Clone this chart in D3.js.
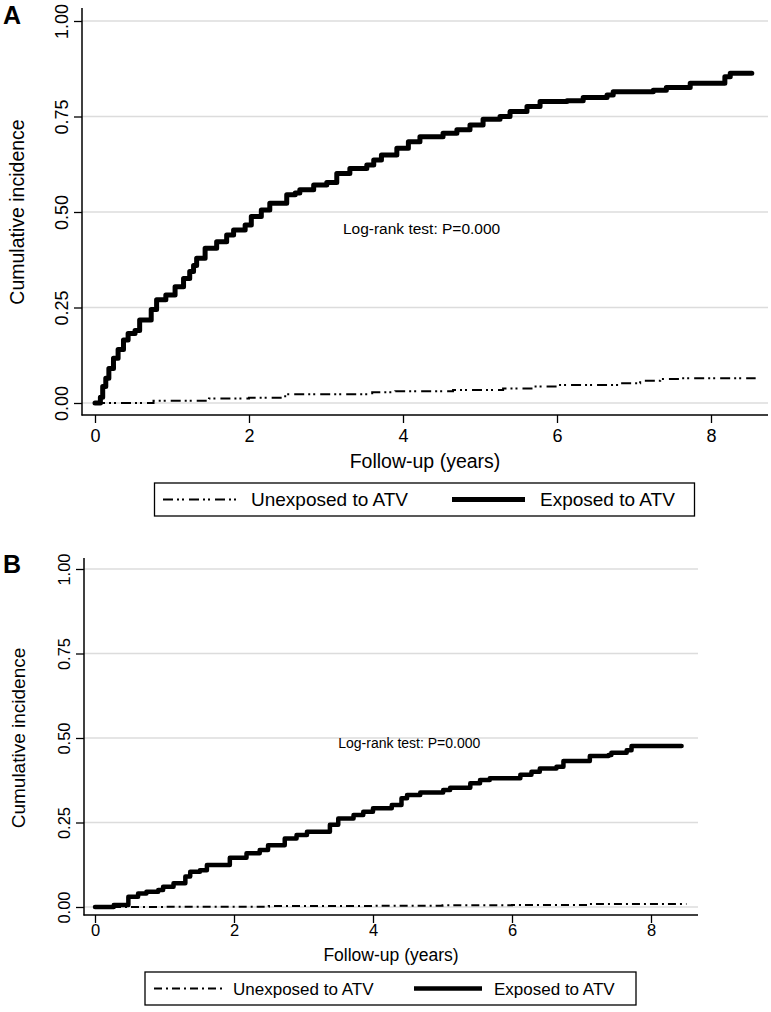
<!DOCTYPE html>
<html><head><meta charset="utf-8">
<script src="https://cdn.jsdelivr.net/npm/d3@7"></script>
<style>
html,body{margin:0;padding:0;background:#fff;}
svg{display:block;font-family:"Liberation Sans",Arial,Helvetica,sans-serif;}
</style></head>
<body>
<svg id="chart" width="771" height="1012"></svg>
<script>
// ---------- DATA ----------
const yTicks = [0, 0.25, 0.5, 0.75, 1.0];
const yTickLabels = ["0.00", "0.25", "0.50", "0.75", "1.00"];
const xTicks = [0, 2, 4, 6, 8];
const seriesNames = ["Unexposed to ATV", "Exposed to ATV"];
const xTitle = "Follow-up (years)";
const yTitle = "Cumulative incidence";
const pText = "Log-rank test: P=0.000";

// Panel A
const expA_t = [0,0.07,0.10,0.14,0.18,0.24,0.30,0.37,0.43,0.52,0.58,0.73,0.80,0.92,1.04,1.15,1.23,1.28,1.32,1.43,1.58,1.71,1.80,1.95,2.03,2.16,2.27,2.49,2.60,2.66,2.84,3.01,3.14,3.31,3.53,3.62,3.72,3.92,4.07,4.22,4.52,4.70,4.87,5.04,5.26,5.39,5.61,5.78,6.13,6.34,6.65,6.73,7.25,7.42,7.73,8.18,8.25,8.53];
const expA_v = [0,0.015,0.043,0.065,0.09,0.117,0.14,0.165,0.182,0.19,0.217,0.245,0.27,0.283,0.304,0.326,0.344,0.36,0.379,0.405,0.422,0.44,0.453,0.466,0.488,0.505,0.523,0.545,0.55,0.558,0.571,0.577,0.601,0.614,0.623,0.636,0.649,0.667,0.684,0.697,0.706,0.715,0.728,0.743,0.75,0.763,0.776,0.789,0.791,0.80,0.806,0.815,0.819,0.826,0.837,0.854,0.863,0.863];
const unA_t = [0,0.76,1.48,2.0,2.47,3.6,3.9,4.65,5.3,5.7,6.0,6.78,7.08,7.34,7.6,8.58];
const unA_v = [0,0.006,0.012,0.014,0.023,0.028,0.031,0.034,0.038,0.043,0.047,0.052,0.058,0.063,0.065,0.065];

// Panel B
const expB_t = [0,0.27,0.48,0.62,0.74,0.91,0.98,1.13,1.30,1.37,1.51,1.61,1.94,2.18,2.37,2.49,2.73,2.90,3.05,3.38,3.50,3.72,3.86,4.0,4.27,4.41,4.49,4.68,5.01,5.11,5.40,5.54,5.68,6.12,6.28,6.40,6.64,6.74,7.12,7.39,7.43,7.65,7.72,8.44];
const expB_v = [0,0.006,0.03,0.04,0.045,0.05,0.06,0.07,0.09,0.104,0.109,0.124,0.146,0.159,0.169,0.183,0.203,0.213,0.223,0.243,0.262,0.272,0.282,0.292,0.302,0.322,0.331,0.339,0.346,0.353,0.366,0.376,0.381,0.391,0.40,0.41,0.415,0.432,0.447,0.45,0.456,0.464,0.476,0.476];
const unB_t = [0,1.0,2.5,4.0,5.0,6.0,7.12,8.51];
const unB_v = [0,0.001,0.003,0.004,0.005,0.006,0.009,0.009];

// ---------- DRAW ----------
const svg = d3.select("#chart");
const zip = (t, v) => t.map((d, i) => ({t: d, v: v[i]}));

function panel(cfg) {
  const g = svg.append("g");
  const x = d3.scaleLinear().domain([0, 8]).range([cfg.x0, cfg.x8]);
  const y = d3.scaleLinear().domain([0, 1]).range([cfg.y0, cfg.y1]);

  // panel letter
  g.append("text").attr("x", 3).attr("y", cfg.letterY).attr("font-size", 25)
    .attr("font-weight", "bold").text(cfg.letter);

  // gridlines
  g.append("g").selectAll("line").data(yTicks).join("line")
    .attr("x1", cfg.left).attr("x2", cfg.right)
    .attr("y1", d => y(d)).attr("y2", d => y(d))
    .attr("stroke", "#dcdcdc").attr("stroke-width", 1.5);

  // y axis
  const yAx = g.append("g").attr("transform", `translate(${cfg.left},0)`)
    .call(d3.axisLeft(y).tickValues(yTicks).tickFormat((d, i) => yTickLabels[i]).tickSize(8).tickSizeOuter(0));
  yAx.select(".domain").remove();
  yAx.selectAll(".tick line").attr("stroke", "#000").attr("stroke-width", 1.3);
  yAx.selectAll(".tick text")
    .attr("transform", "rotate(-90)")
    .attr("x", 0).attr("y", -14).attr("dy", 0)
    .attr("text-anchor", "middle")
    .attr("font-size", cfg.tickFont).attr("font-family", null).attr("fill", "#000");
  g.append("line").attr("x1", cfg.left).attr("x2", cfg.left)
    .attr("y1", cfg.axisTop).attr("y2", cfg.axisY + 0.5)
    .attr("stroke", "#000").attr("stroke-width", 1.5);

  // x axis
  const xAx = g.append("g").attr("transform", `translate(0,${cfg.axisY})`)
    .call(d3.axisBottom(x).tickValues(xTicks).tickFormat(d3.format("d")).tickSize(8).tickSizeOuter(0));
  xAx.select(".domain").remove();
  xAx.selectAll(".tick line").attr("stroke", "#000").attr("stroke-width", 1.3);
  xAx.selectAll(".tick text").attr("y", cfg.xLabOff).attr("dy", "0.71em")
    .attr("font-size", cfg.tickFont).attr("font-family", null).attr("fill", "#000");
  g.append("line").attr("x1", cfg.left - 0.5).attr("x2", cfg.right)
    .attr("y1", cfg.axisY).attr("y2", cfg.axisY)
    .attr("stroke", "#000").attr("stroke-width", 1.5);

  // titles
  g.append("text").attr("transform", `translate(${cfg.yTitleX},${(cfg.y0 + cfg.y1) / 2}) rotate(-90)`)
    .attr("text-anchor", "middle").attr("font-size", cfg.yTitleFont).text(yTitle);
  g.append("text").attr("x", (cfg.left + cfg.right) / 2).attr("y", cfg.xTitleY)
    .attr("text-anchor", "middle").attr("font-size", cfg.titleFont).text(xTitle);

  // annotation
  g.append("text").attr("x", x(cfg.pX)).attr("y", y(cfg.pY))
    .attr("font-size", cfg.pFont).text(pText);

  // curves
  const line = d3.line().x(d => x(d.t)).y(d => y(d.v)).curve(d3.curveStepAfter);
  g.append("path").datum(zip(cfg.unT, cfg.unV)).attr("d", line)
    .attr("fill", "none").attr("stroke", "#000").attr("stroke-width", 2)
    .attr("stroke-dasharray", cfg.dash);
  g.append("path").datum(zip(cfg.exT, cfg.exV)).attr("d", line)
    .attr("fill", "none").attr("stroke", "#000").attr("stroke-width", cfg.thick)
    .attr("stroke-linejoin", "round").attr("stroke-linecap", "round");

  // legend
  const L = cfg.legend;
  g.append("rect").attr("x", L.x).attr("y", L.y).attr("width", L.w).attr("height", L.h)
    .attr("fill", "#fff").attr("stroke", "#000").attr("stroke-width", 1.3);
  const my = L.y + L.h / 2;
  g.append("line").attr("x1", L.s1[0]).attr("x2", L.s1[1]).attr("y1", my).attr("y2", my)
    .attr("stroke", "#000").attr("stroke-width", 2).attr("stroke-dasharray", cfg.dash);
  g.append("line").attr("x1", L.s2[0]).attr("x2", L.s2[1]).attr("y1", my).attr("y2", my)
    .attr("stroke", "#000").attr("stroke-width", cfg.thick);
  g.append("text").attr("x", L.t1).attr("y", my).attr("dy", "0.36em")
    .attr("font-size", L.font).text(seriesNames[0]);
  g.append("text").attr("x", L.t2).attr("y", my).attr("dy", "0.36em")
    .attr("font-size", L.font).text(seriesNames[1]);
}

panel({
  letter: "A", letterY: 24,
  left: 82, right: 768, x0: 95, x8: 711, y0: 403, y1: 21, axisY: 415, axisTop: 8,
  tickFont: 18, xLabOff: 14, titleFont: 19.5, yTitleFont: 19.5, yTitleX: 24, xTitleY: 468,
  pX: 3.22, pY: 0.442, pFont: 15.5,
  exT: expA_t, exV: expA_v, unT: unA_t, unV: unA_v,
  thick: 5, dash: "10,4,2,3,2,5",
  legend: {x: 154.5, y: 483, w: 540, h: 33, s1: [163, 238], s2: [452, 525], t1: 251, t2: 540, font: 19}
});

panel({
  letter: "B", letterY: 573,
  left: 84, right: 698, x0: 95, x8: 651, y0: 907, y1: 569, axisY: 915, axisTop: 558,
  tickFont: 16.5, xLabOff: 9, titleFont: 17.5, yTitleFont: 19, yTitleX: 25, xTitleY: 961,
  pX: 3.50, pY: 0.47, pFont: 14,
  exT: expB_t, exV: expB_v, unT: unB_t, unV: unB_v,
  thick: 4.5, dash: "8,4,2,4",
  legend: {x: 145, y: 972, w: 491, h: 33, s1: [154, 222], s2: [414, 482], t1: 233, t2: 494, font: 17}
});
</script>
</body></html>
